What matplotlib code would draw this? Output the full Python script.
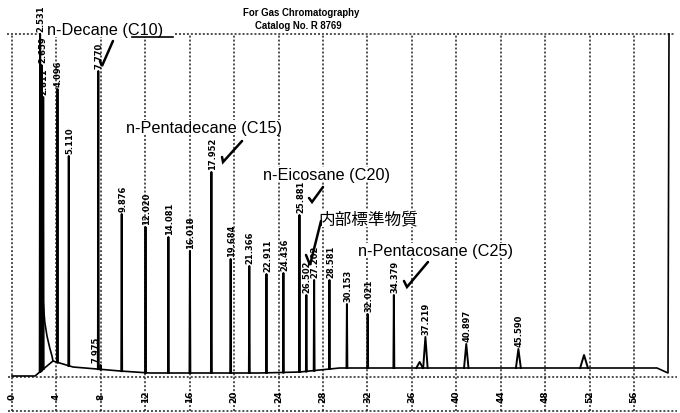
import numpy as np
import matplotlib.pyplot as plt

# integrator peak table: retention time (min) and peak apex (signal units)
peak_rt = [2.531, 2.659, 2.811, 4.096, 5.110, 7.770, 7.975, 9.876, 12.020,
           14.081, 16.018, 17.952, 19.684, 21.366, 22.911, 24.436, 25.881,
           26.502, 27.202, 28.581, 30.153, 32.021, 34.379, 37.219, 40.897,
           45.590]
peak_top = [400, 312, 280, 288, 221, 306, 12, 163, 150,
            140, 126, 205, 118, 111, 103, 104, 162,
            82, 97, 97, 73, 63, 82, 40, 33,
            28]
peak_hw = [0.04] * 23 + [0.2, 0.2, 0.22]

# small peaks the integrator did not label
extra_rt = [36.7, 51.5]
extra_top = [15, 22]
extra_hw = [0.3, 0.35]

# detector floor (with the integrator's drop line under the solvent front)
floor_t = [0.0, 2.07, 3.69, 4.59, 5.49, 7.65, 9.72, 12.4, 16.9, 22.3, 25.9,
           27.7, 29.5, 34.9, 43.9, 52.9, 58.07, 59.06, 59.15]
floor_h = [1, 1, 16, 13, 10, 8, 6, 4, 4, 4, 5,
           7, 9, 9, 9, 9, 9, 4, 343]

# solvent tail coming down from full scale
tail_t = [2.53, 2.62, 2.70, 2.79, 2.95, 3.15, 3.40, 3.60, 3.69]
tail_h = [343, 200, 128, 78, 55, 41, 29, 21, 16]

grid_ticks = list(range(0, 57, 4))
FULL = 343

fig = plt.figure(figsize=(6.8, 4.14), dpi=100)
ax = fig.add_axes([6 / 680, 0, 672 / 680, 1])
ax.set_xlim(-0.54, 59.96)
ax.set_ylim(-36, 378)
ax.axis('off')

dots = dict(color='#222222', lw=1.1, linestyle=(0, (1.3, 1.3)), zorder=1)
for t in grid_ticks:
    ax.plot([t, t], [-34, FULL], **dots)
ax.plot([-0.36, 59.9], [0, 0], **dots)
ax.plot([-0.36, 59.9], [-34, -34], **dots)
ax.plot([-0.45, 2.52], [FULL, FULL], **dots)
ax.plot([14.68, 59.6], [FULL, FULL], **dots)
ax.plot([10.8, 14.5], [340, 340], color='black', lw=1.2, zorder=4)

narrow = ['Liberation Sans Narrow', 'DejaVu Sans']
for t in grid_ticks:
    ax.text(t, -19, str(t), rotation=90, ha='center', va='center',
            fontsize=6.5, fontweight='bold', family=narrow)

# chromatogram trace
ax.plot(floor_t, floor_h, color='black', lw=1.2, zorder=4)
ax.plot(tail_t, tail_h, color='black', lw=1.2, zorder=4)

for rt, top, hw in zip(peak_rt + extra_rt, peak_top + extra_top, peak_hw + extra_hw):
    base = np.interp(rt, floor_t, floor_h)
    top = min(top, FULL)
    ax.plot([rt - hw, rt, rt + hw], [base, top, base], color='black',
            lw=1.4, zorder=4)

for rt, top in zip(peak_rt, peak_top):
    dx = -5 if rt == 7.975 else 1
    ax.annotate(f'{rt:.3f}', xy=(rt, min(top, FULL)), xytext=(dx, 3),
                textcoords='offset pixels', rotation=90, ha='center',
                va='bottom', fontsize=6.0, fontweight='bold', family=narrow,
                zorder=5)

# compound call-outs
labels = [('n-Decane (C10)', 3.15, 343),
          ('n-Pentadecane (C15)', 10.26, 245),
          ('n-Eicosane (C20)', 22.6, 198),
          ('n-Pentacosane (C25)', 31.15, 122)]
for s, t, h in labels:
    ax.text(t, h, s, ha='left', va='baseline', fontsize=11.7,
            family=['Liberation Sans', 'DejaVu Sans'], zorder=3,
            bbox=dict(facecolor='white', edgecolor='none', pad=0))
ax.text(27.55, 154, '内部標準物質', ha='left', va='baseline', fontsize=12,
        family=['Noto Sans CJK JP', 'DejaVu Sans'], zorder=3,
        bbox=dict(facecolor='white', edgecolor='none', pad=0))

checks = [([7.92, 8.10, 9.09], [316, 311, 336]),
          ([18.91, 19.00, 20.71], [220, 215, 236]),
          ([26.74, 27.01, 28.00], [179, 175, 190]),
          ([26.47, 26.83, 27.82], [122, 112, 156]),
          ([35.29, 35.56, 37.45], [96, 90, 115])]
for xs, ys in checks:
    ax.plot(xs, ys, color='black', lw=1.8, solid_capstyle='round',
            solid_joinstyle='miter', zorder=5)

ax.text(26.02, 365, 'For Gas Chromatography', ha='center', va='center',
        fontsize=6.9, fontweight='bold', family=['Liberation Sans', 'DejaVu Sans'])
ax.text(25.75, 352, 'Catalog No. R 8769', ha='center', va='center',
        fontsize=6.9, fontweight='bold', family=['Liberation Sans', 'DejaVu Sans'])

plt.savefig('out.png', dpi=100)
